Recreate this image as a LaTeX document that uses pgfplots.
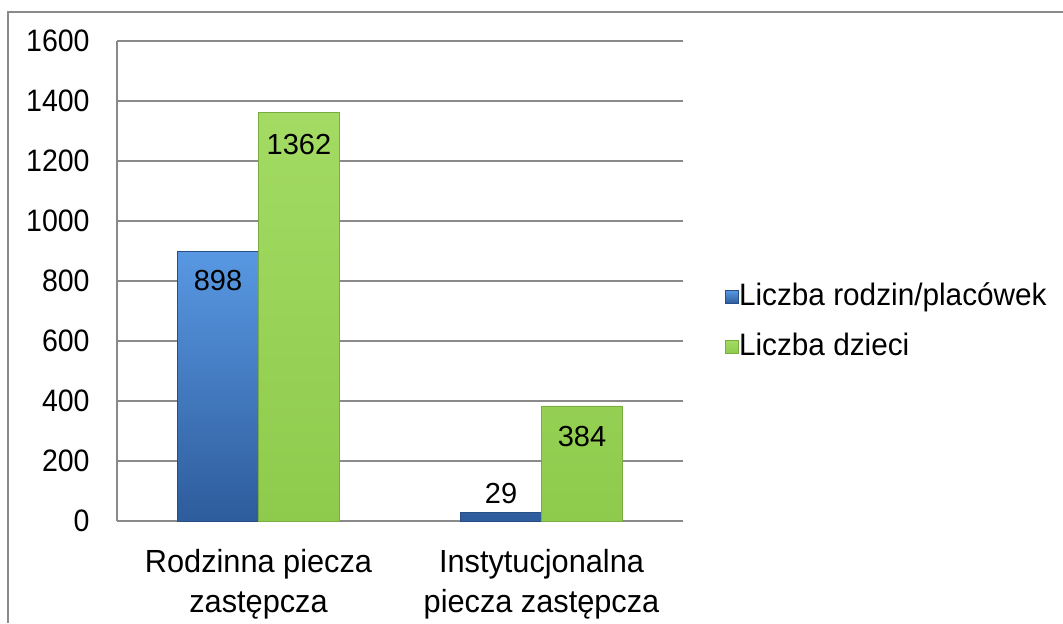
\documentclass[border=0pt]{standalone}
\usepackage{fontspec}
\setmainfont{Liberation Sans}
\newfontfamily\tickf{Liberation Sans}[FakeStretch=0.92]
\newfontfamily\legf{Liberation Sans}[FakeStretch=0.96]
\newfontfamily\catf{Liberation Sans}[FakeStretch=0.96]
\usepackage{pgfplots}
\usepackage{pgfplotstable}
\pgfplotsset{compat=1.18}
\definecolor{gridgray}{HTML}{8A8A8A}
\definecolor{blueT}{HTML}{5898E2}
\definecolor{blueM}{HTML}{4A86D2}
\definecolor{blueB}{HTML}{2E5C9C}
\definecolor{greenT}{HTML}{A3DB63}
\definecolor{greenB}{HTML}{8ECB4C}
\pgfplotstableread{
x y off
0 898 -14.5
1 29 9.5
}\rodziny
\pgfplotstableread{
x y off
0 1362 -16
1 384 -15.5
}\dzieci
\begin{document}
\fontsize{14}{19}\selectfont
\begin{tikzpicture}
\useasboundingbox (0,0) rectangle (531.5pt,311.5pt);
\draw[gridgray, line width=0.6pt] (4pt,0) -- (4pt,305.5pt) -- (531.5pt,305.5pt);
\begin{axis}[
  at={(58.5pt,51pt)}, anchor=south west,
  scale only axis, width=283pt, height=240pt,
  ybar=0pt, bar width=40.5pt,
  xmin=-0.5, xmax=1.5, ymin=0, ymax=1600,
  axis x line*=bottom, axis y line*=left,
  axis line style={gridgray, line width=0.6pt},
  major tick length=0pt,
  xtick={0,1},
  xticklabels={{Rodzinna piecza\\zastępcza},{Instytucjonalna\\piecza zastępcza}},
  xticklabel style={align=center, inner sep=0pt, anchor=north, yshift=-14pt, font=\catf\fontsize{16}{20}\selectfont},
  ytick={0,200,...,1600},
  yticklabel style={anchor=east, inner sep=0pt, xshift=-13.5pt, font=\tickf\fontsize{15.5}{19}\selectfont},
  /pgf/number format/assume math mode=true,
  /pgf/number format/1000 sep={},
  ymajorgrids, grid style={gridgray, line width=0.6pt},
  legend style={at={(1,0.4146)}, anchor=west, xshift=21pt, draw=none, fill=none,
    row sep=11pt, inner sep=0pt, font=\legf\fontsize{15.5}{19}\selectfont,
    nodes={inner sep=0pt, text height=11pt, text depth=3pt}},
  legend cell align=left,
  legend image code/.code={\path (0pt,0pt) -- (6.5pt,0pt); \fill[#1] (0pt,-3.25pt) rectangle (6.5pt,3.25pt);},
]
\addplot[top color=blueT, middle color=blueM, bottom color=blueB, draw=blueB!85!black, line width=0.3pt,
  nodes near coords,
  visualization depends on={\thisrow{off} \as \myoff},
  nodes near coords style={anchor=center, inner sep=0pt, yshift=\myoff pt, font=\fontsize{14.5}{19}\selectfont, text=black}]
  table[x=x,y=y] {\rodziny};
\addplot[top color=greenT, bottom color=greenB, draw=greenB!85!black, line width=0.3pt,
  nodes near coords,
  visualization depends on={\thisrow{off} \as \myoff},
  nodes near coords style={anchor=center, inner sep=0pt, yshift=\myoff pt, font=\fontsize{14.5}{19}\selectfont, text=black}]
  table[x=x,y=y] {\dzieci};
\legend{Liczba rodzin/placówek, Liczba dzieci}
\end{axis}
\end{tikzpicture}
\end{document}
